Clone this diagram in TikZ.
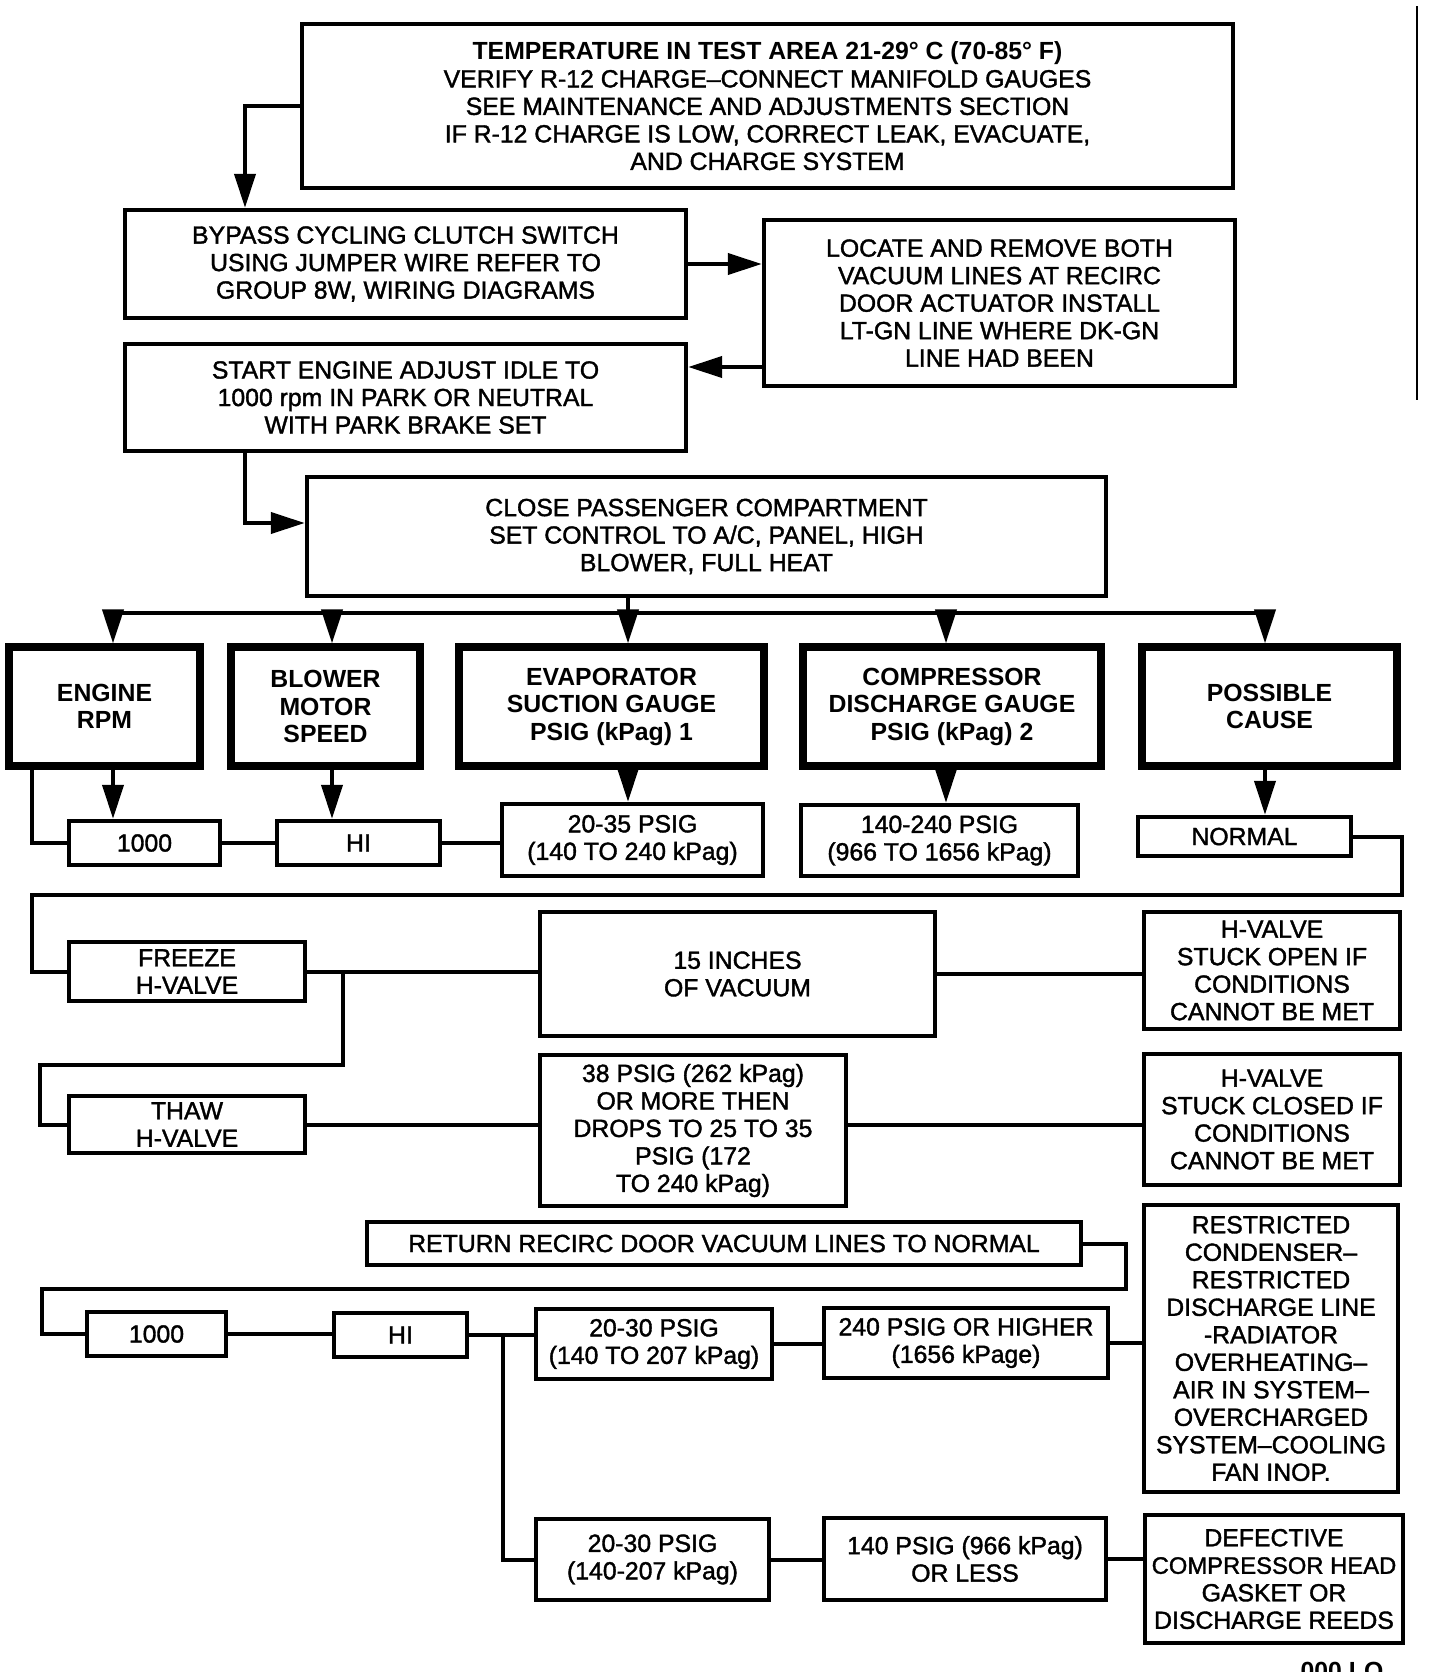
\documentclass[tikz,border=0pt]{standalone}
\usepackage{fontspec}
\setmainfont{Liberation Sans}[FakeBold=1.5]
\newfontfamily\hdfont{Liberation Sans Bold}
\usetikzlibrary{arrows.meta}
\newcommand\dfont{\fontsize{12.4pt}{13.75pt}\selectfont}
\newcommand\mkbox[6]{\node[#1, minimum width={(#4-#2)*0.5pt-2pt}, minimum height={(#5-#3)*0.5pt-2pt}] (#6) at ({(#2+#4)/2},{(#3+#5)/2})}
\tikzset{
  box/.style={draw, line width=2.2pt, inner sep=0pt, align=center, font=\dfont},
  hbox/.style={box, line width=3.6pt, font=\dfont\hdfont},
  conn/.style={line width=2pt},
  arr/.style={conn, -{Triangle[length=17pt,width=10.5pt]}},
}
\begin{document}
\begin{tikzpicture}[x=0.5pt,y=-0.5pt]
\useasboundingbox (0,0) rectangle (1440,1672);

% boxes
\mkbox{box}{300}{22}{1235}{190}{top} {{\hdfont TEMPERATURE IN TEST AREA 21-29° C (70-85° F)}\\VERIFY R-12 CHARGE–CONNECT MANIFOLD GAUGES\\SEE MAINTENANCE AND ADJUSTMENTS SECTION\\IF R-12 CHARGE IS LOW, CORRECT LEAK, EVACUATE,\\AND CHARGE SYSTEM};
\mkbox{box}{123}{208}{688}{320}{bypass} {BYPASS CYCLING CLUTCH SWITCH\\USING JUMPER WIRE REFER TO\\GROUP 8W, WIRING DIAGRAMS};
\mkbox{box}{762}{218}{1237}{388}{locate} {LOCATE AND REMOVE BOTH\\VACUUM LINES AT RECIRC\\DOOR ACTUATOR INSTALL\\LT-GN LINE WHERE DK-GN\\LINE HAD BEEN};
\mkbox{box}{123}{342}{688}{453}{start} {START ENGINE ADJUST IDLE TO\\1000 rpm IN PARK OR NEUTRAL\\WITH PARK BRAKE SET};
\mkbox{box}{305}{475}{1108}{598}{close} {CLOSE PASSENGER COMPARTMENT\\SET CONTROL TO A/C, PANEL, HIGH\\BLOWER, FULL HEAT};

\mkbox{hbox}{7}{645}{202}{768}{engine} {ENGINE\\RPM};
\mkbox{hbox}{229}{645}{422}{768}{blower} {BLOWER\\MOTOR\\SPEED};
\mkbox{hbox}{457}{645}{766}{768}{evap} {EVAPORATOR\\SUCTION GAUGE\\PSIG (kPag) 1};
\mkbox{hbox}{801}{645}{1103}{768}{comp} {COMPRESSOR\\DISCHARGE GAUGE\\PSIG (kPag) 2};
\mkbox{hbox}{1140}{645}{1399}{768}{cause} {POSSIBLE\\CAUSE};

\mkbox{box}{67}{819}{222}{867}{v1000} {1000};
\mkbox{box}{275}{819}{442}{867}{vhi} {HI};
\mkbox{box}{500}{802}{765}{878}{v2035} {20-35 PSIG\\(140 TO 240 kPag)};
\mkbox{box}{799}{803}{1080}{878}{v140} {140-240 PSIG\\(966 TO 1656 kPag)};
\mkbox{box}{1136}{815}{1353}{858}{normal} {NORMAL};

\mkbox{box}{67}{940}{307}{1003}{freeze} {FREEZE\\H-VALVE};
\mkbox{box}{538}{910}{937}{1038}{inches} {15 INCHES\\OF VACUUM};
\mkbox{box}{1142}{910}{1402}{1031}{hopen} {H-VALVE\\STUCK OPEN IF\\CONDITIONS\\CANNOT BE MET};
\mkbox{box}{67}{1094}{307}{1155}{thaw} {THAW\\H-VALVE};
\mkbox{box}{538}{1053}{848}{1208}{p38} {38 PSIG (262 kPag)\\OR MORE THEN\\DROPS TO 25 TO 35\\PSIG (172\\TO 240 kPag)};
\mkbox{box}{1142}{1052}{1402}{1187}{hclosed} {H-VALVE\\STUCK CLOSED IF\\CONDITIONS\\CANNOT BE MET};
\mkbox{box}{365}{1220}{1083}{1267}{ret} {RETURN RECIRC DOOR VACUUM LINES TO NORMAL};
\mkbox{box}{1142}{1203}{1400}{1494}{restr} {RESTRICTED\\CONDENSER–\\RESTRICTED\\DISCHARGE LINE\\-RADIATOR\\OVERHEATING–\\AIR IN SYSTEM–\\OVERCHARGED\\SYSTEM–COOLING\\FAN INOP.};
\mkbox{box}{85}{1310}{228}{1358}{w1000} {1000};
\mkbox{box}{332}{1311}{469}{1359}{whi} {HI};
\mkbox{box}{534}{1307}{774}{1381}{pa} {20-30 PSIG\\(140 TO 207 kPag)};
\mkbox{box}{822}{1306}{1110}{1380}{p240} {240 PSIG OR HIGHER\\(1656 kPage)};
\mkbox{box}{534}{1517}{771}{1602}{pb} {20-30 PSIG\\(140-207 kPag)};
\mkbox{box}{822}{1516}{1108}{1602}{p140} {140 PSIG (966 kPag)\\OR LESS};
\mkbox{box}{1143}{1513}{1405}{1645}{defect} {DEFECTIVE\\{\fontsize{11.9pt}{13.75pt}\selectfont COMPRESSOR HEAD}\\GASKET OR\\DISCHARGE REEDS};

\node[font=\dfont\hdfont, anchor=north, inner sep=0pt] (fig) at (1342,1662) {000 LO};

% helper coordinates
\coordinate (xa) at (245,0);
\coordinate (ya) at (0,367);
\coordinate (yb) at (0,523);
\coordinate (b1) at (113,613);
\coordinate (b2) at (332,613);
\coordinate (b3) at (628,613);
\coordinate (b4) at (946,613);
\coordinate (b5) at (1265,613);
\coordinate (xl) at (32,0);
\coordinate (r1) at (1402,895);
\coordinate (l1) at (32,895);
\coordinate (xj) at (343,0);
\coordinate (k1) at (40,1065);
\coordinate (r2) at (1126,1289);
\coordinate (l2) at (42,1289);
\coordinate (xj2) at (503,0);

% connectors
\draw[arr] (top.west) -| (bypass.north -| xa);
\draw[arr] (bypass.east) -- (locate.west |- bypass.east);
\draw[arr] (locate.west |- ya) -- (start.east |- ya);
\draw[arr] (start.south -| xa) |- (close.west |- yb);
\draw[conn] (close.south -| b3) -- (b3);
\draw[conn] (b1) -- (b5);
\draw[arr] (b1) -- (engine.north -| b1);
\draw[arr] (b2) -- (blower.north -| b2);
\draw[arr] (b3) -- (evap.north -| b3);
\draw[arr] (b4) -- (comp.north -| b4);
\draw[arr] (b5) -- (cause.north -| b5);
\draw[arr] (engine.south -| b1) -- (v1000.north -| b1);
\draw[arr] (blower.south -| b2) -- (vhi.north -| b2);
\draw[arr] (evap.south -| b3) -- (v2035.north -| b3);
\draw[arr] (comp.south -| b4) -- (v140.north -| b4);
\draw[arr] (cause.south -| b5) -- (normal.north -| b5);
\draw[conn] (engine.south -| xl) |- (v1000.west);
\draw[conn] (v1000.east) -- (vhi.west);
\draw[conn] (vhi.east) -- (v2035.west |- vhi.east);
\draw[conn] (normal.east) -| (r1) -- (l1) |- (freeze.west);
\draw[conn] (freeze.east) -- (inches.west |- freeze.east);
\draw[conn] (freeze.east -| xj) |- (k1) |- (thaw.west);
\draw[conn] (inches.east) -- (hopen.west |- inches.east);
\draw[conn] (thaw.east) -- (p38.west |- thaw.east);
\draw[conn] (p38.east |- thaw.east) -- (hclosed.west |- thaw.east);
\draw[conn] (ret.east) -| (r2) -- (l2) |- (w1000.west);
\draw[conn] (w1000.east) -- (whi.west |- w1000.east);
\draw[conn] (whi.east) -- (pa.west |- whi.east);
\draw[conn] (whi.east -| xj2) |- (pb.west);
\draw[conn] (pa.east) -- (p240.west |- pa.east);
\draw[conn] (p240.east) -- (restr.west |- p240.east);
\draw[conn] (pb.east) -- (p140.west |- pb.east);
\draw[conn] (p140.east) -- (defect.west |- p140.east);

% page edge line
\draw[line width=1.3pt] (1417,6) -- (1417,400);
\end{tikzpicture}
\end{document}
